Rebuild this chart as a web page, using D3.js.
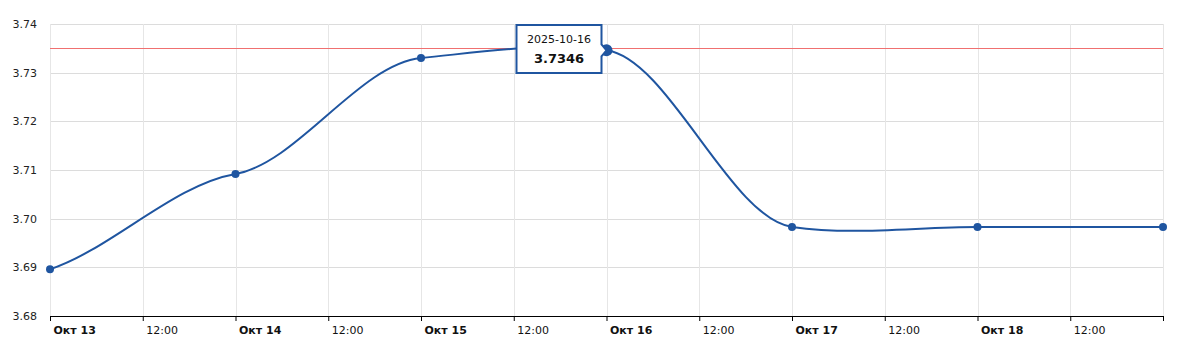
<!DOCTYPE html>
<html>
<head>
<meta charset="utf-8">
<script src="https://cdn.jsdelivr.net/npm/d3@7"></script>
<style>
  body { margin: 0; background: #fff; }
  text { font-family: "DejaVu Sans", Verdana, sans-serif; }
</style>
</head>
<body>
<div id="chart"></div>
<script>
// data
var dates = ["2025-10-13", "2025-10-14", "2025-10-15", "2025-10-16", "2025-10-17", "2025-10-18", "2025-10-19"];
var rates = [3.6896, 3.7092, 3.7330, 3.7346, 3.6983, 3.6983, 3.6983];
var yTicks = [3.68, 3.69, 3.70, 3.71, 3.72, 3.73, 3.74];
var monthLabel = "Окт";
var hoverIndex = 3;

var W = 1189, H = 346;
var margin = {top: 24, right: 26, bottom: 30, left: 50},
    width = W - margin.left - margin.right,
    height = H - margin.top - margin.bottom;

var parse = d3.timeParse("%Y-%m-%d");
var data = dates.map(function(d, i) { return {date: parse(d), value: rates[i]}; });

// smoothing like the source chart: handles at 1/3 of the gap, flattened slopes
function flatSpline(context) {
  var pts;
  return {
    areaStart: function() {}, areaEnd: function() {},
    lineStart: function() { pts = []; },
    point: function(px, py) { pts.push([+px, +py]); },
    lineEnd: function() {
      var n = pts.length, m = [];
      for (var i = 0; i < n; i++) {
        if (i === 0) m.push(0.65 * (pts[1][1] - pts[0][1]) / (pts[1][0] - pts[0][0]));
        else if (i === n - 1) m.push(0.65 * (pts[i][1] - pts[i - 1][1]) / (pts[i][0] - pts[i - 1][0]));
        else m.push(0.3 * (pts[i + 1][1] - pts[i - 1][1]) / (pts[i + 1][0] - pts[i - 1][0]));
      }
      context.moveTo(pts[0][0], pts[0][1]);
      for (var j = 1; j < n; j++) {
        var h = (pts[j][0] - pts[j - 1][0]) / 3;
        context.bezierCurveTo(pts[j - 1][0] + h, pts[j - 1][1] + m[j - 1] * h,
                              pts[j][0] - h, pts[j][1] - m[j] * h,
                              pts[j][0], pts[j][1]);
      }
    }
  };
}

var svg = d3.select("#chart")
  .append("svg")
  .attr("width", W)
  .attr("height", H)
  .append("g")
  .attr("transform", "translate(" + margin.left + "," + margin.top + ")");

var x = d3.scaleTime()
  .domain(d3.extent(data, function(d) { return d.date; }))
  .range([0, width]);
var y = d3.scaleLinear()
  .domain([3.68, 3.74])
  .range([height, 0]);

var xEnd = x.domain()[1];
var xTicks = d3.timeHour.every(12).range(x.domain()[0], d3.timeHour.offset(xEnd, 1));

// grid
svg.append("g").selectAll("line")
  .data(yTicks).enter().append("line")
  .attr("x1", 0).attr("x2", width)
  .attr("y1", function(d) { return Math.round(y(d)) + 0.5; })
  .attr("y2", function(d) { return Math.round(y(d)) + 0.5; })
  .style("stroke", "#dcdcdc");
svg.append("g").selectAll("line")
  .data(xTicks).enter().append("line")
  .attr("x1", function(d) { return Math.round(x(d)) + 0.5; })
  .attr("x2", function(d) { return Math.round(x(d)) + 0.5; })
  .attr("y1", 0).attr("y2", height)
  .style("stroke", "#e6e6e6");

// y labels
svg.append("g").selectAll("text")
  .data(yTicks).enter().append("text")
  .attr("x", -13)
  .attr("y", function(d) { return y(d); })
  .attr("dy", "0.35em")
  .attr("text-anchor", "end")
  .attr("font-size", 11)
  .style("fill", "#222")
  .text(function(d) { return d.toFixed(2); });

// x axis
var xAxis = svg.append("g")
  .attr("transform", "translate(0," + height + ")")
  .call(d3.axisBottom(x).tickValues(xTicks).tickSize(5).tickFormat(""));
xAxis.select(".domain").style("stroke", "#000").attr("d", "M0,0.5H" + width);
xAxis.selectAll(".tick line").style("stroke", "#000");
xAxis.selectAll(".tick")
  .filter(function(d) { return +d < +xEnd; })
  .append("text")
  .attr("y", 18)
  .attr("x", 3)
  .attr("text-anchor", "start")
  .attr("font-size", 11)
  .attr("font-weight", function(d) { return d.getHours() === 0 ? "bold" : "normal"; })
  .style("fill", "#111")
  .text(function(d) {
    return d.getHours() === 0 ? monthLabel + " " + d.getDate() : d3.timeFormat("%H:%M")(d);
  });

// max line
var maxVal = d3.max(rates);
svg.append("line")
  .attr("x1", 0).attr("x2", width)
  .attr("y1", Math.round(y(maxVal)) - 1.5).attr("y2", Math.round(y(maxVal)) - 1.5)
  .style("stroke", "#f07070");

// series
var line = d3.line()
  .x(function(d) { return x(d.date); })
  .y(function(d) { return y(d.value); })
  .curve(flatSpline);
svg.append("path")
  .datum(data)
  .attr("d", line)
  .style("fill", "none")
  .style("stroke", "#1f55a0")
  .style("stroke-width", 2);

svg.selectAll("circle")
  .data(data).enter().append("circle")
  .attr("cx", function(d) { return x(d.date); })
  .attr("cy", function(d) { return y(d.value); })
  .attr("r", function(d, i) { return i === hoverIndex ? 6 : 4; })
  .style("fill", "#1f55a0");

// tooltip
var hp = data[hoverIndex];
var px = x(hp.date), py = y(hp.value);
var bw = 85, bh = 48;
var bx = px - 5 - bw, by = 1;
var tip = svg.append("g");
tip.append("path")
  .attr("d", "M" + bx + "," + by + "h" + bw + "v" + (py - by - 6) + "l5,6l-5,6v" + (by + bh - py - 6) + "h" + (-bw) + "z")
  .style("fill", "#fff")
  .style("stroke", "#1f55a0")
  .style("stroke-width", 2);
tip.append("text")
  .attr("x", bx + bw / 2).attr("y", by + 18)
  .attr("text-anchor", "middle")
  .attr("font-size", 11)
  .style("fill", "#111")
  .text(dates[hoverIndex]);
tip.append("text")
  .attr("x", bx + bw / 2).attr("y", by + 38)
  .attr("text-anchor", "middle")
  .attr("font-size", 13)
  .attr("font-weight", "bold")
  .style("fill", "#111")
  .text(hp.value.toFixed(4));
</script>
</body>
</html>
